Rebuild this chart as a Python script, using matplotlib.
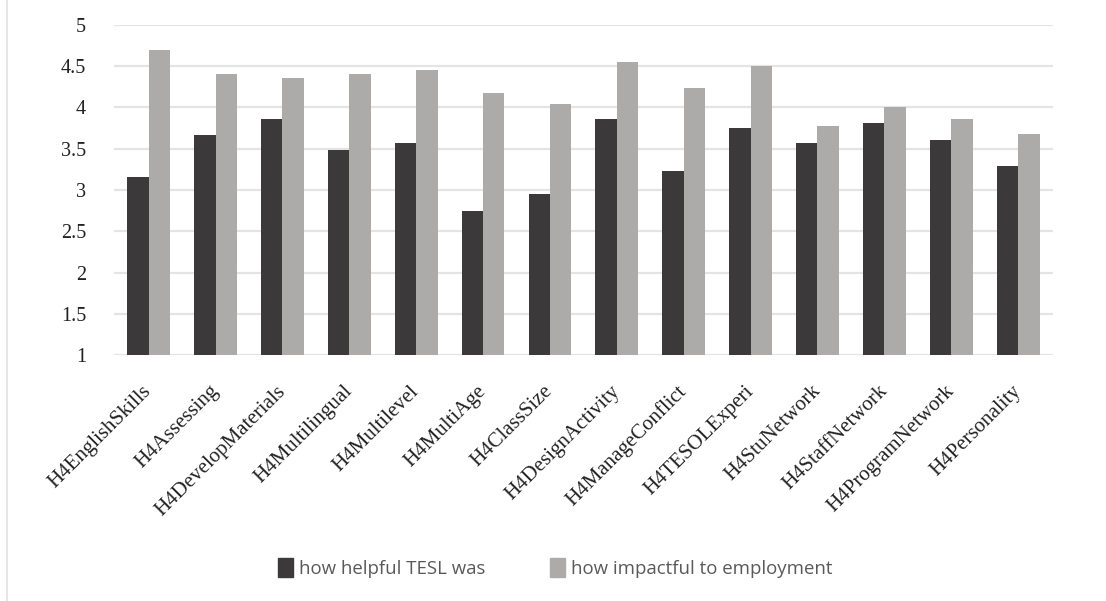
import numpy as np
import matplotlib
matplotlib.use("Agg")
import matplotlib.pyplot as plt
from matplotlib.lines import Line2D
from matplotlib.patches import Patch

categories = ["H4EnglishSkills", "H4Assessing", "H4DevelopMaterials", "H4Multilingual",
              "H4Multilevel", "H4MultiAge", "H4ClassSize", "H4DesignActivity",
              "H4ManageConflict", "H4TESOLExperi", "H4StuNetwork", "H4StaffNetwork",
              "H4ProgramNetwork", "H4Personality"]
helpful = [3.16, 3.66, 3.86, 3.48, 3.57, 2.75, 2.95, 3.86, 3.23, 3.75, 3.57, 3.81, 3.61, 3.29]
impactful = [4.69, 4.40, 4.35, 4.40, 4.45, 4.17, 4.04, 4.55, 4.23, 4.50, 3.77, 4.00, 3.86, 3.68]
y_ticks = [1, 1.5, 2, 2.5, 3, 3.5, 4, 4.5, 5]

dark = "#3b3939"
light = "#acabaa"

fig = plt.figure(figsize=(11.06, 6.01), dpi=100)
ax = fig.add_axes([0.103, 0.409, 0.849, 0.55])

x = np.arange(len(categories))
w = 0.32
ax.bar(x - w / 2, np.array(helpful) - 1, w, bottom=1, color=dark, zorder=3)
ax.bar(x + w / 2, np.array(impactful) - 1, w, bottom=1, color=light, zorder=3)

ax.set_xlim(-0.52, len(categories) - 0.48)
ax.set_ylim(1, 5)
ax.set_yticks(y_ticks)
ax.set_yticklabels([f"{v:g}" for v in y_ticks], fontfamily="Liberation Serif", fontsize=14.5, color="#222222")
ax.yaxis.grid(True, color="#e4e4e4", linewidth=1.6, zorder=0)
ax.tick_params(axis="y", length=0, pad=20)
ax.tick_params(axis="x", length=0, pad=24)
ax.set_xticks(x)
ax.set_xticklabels(categories, rotation=45, ha="right", va="center", rotation_mode="anchor",
                   fontfamily="Liberation Serif", fontsize=15, color="#222222")
for side in ["top", "right", "left", "bottom"]:
    ax.spines[side].set_visible(False)

# faint frame edge on the left
fig.add_artist(Line2D([0.0065, 0.0065], [0.0, 1.0], color="#e2e2e2", linewidth=1.2))

handles = [Patch(color=dark, label="how helpful TESL was"),
           Patch(color=light, label="how impactful to employment")]
leg = fig.legend(handles=handles, loc="center", bbox_to_anchor=(0.502, 0.055), ncol=2,
                 frameon=False, handlelength=0.8, handleheight=1.2,
                 handletextpad=0.35, columnspacing=3.45,
                 prop={"family": "Open Sans", "size": 13.4})
for t in leg.get_texts():
    t.set_color("#595959")

fig.savefig("out.png", dpi=100, facecolor="white")
